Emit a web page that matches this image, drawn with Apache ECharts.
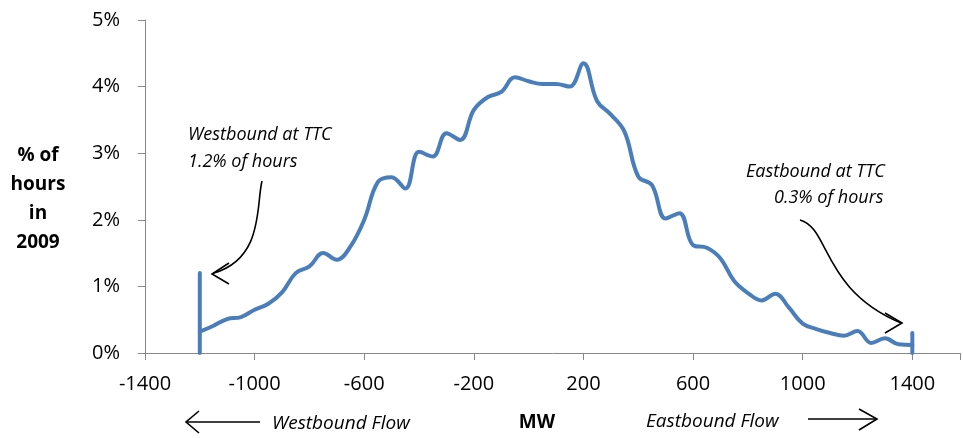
<!DOCTYPE html>
<html><head><meta charset="utf-8">
<script src="https://cdn.jsdelivr.net/npm/echarts@6/dist/echarts.min.js"></script>
<style>html,body{margin:0;padding:0;background:#fff}#c{width:963px;height:438px}</style>
</head><body><div id="c"></div>
<script>
// MW flow (negative = westbound, positive = eastbound)
const mw = [-1200,-1150,-1100,-1050,-1000,-950,-900,-850,-800,-750,-700,-650,-600,-550,-500,-450,-400,-350,-300,-250,-200,-150,-100,-50,0,50,100,150,200,250,300,350,400,450,500,550,600,650,700,750,800,850,900,950,1000,1050,1100,1150,1200,1250,1300,1350,1400];
// % of hours in 2009
const pctHours = [0.32,0.41,0.51,0.54,0.65,0.74,0.91,1.20,1.30,1.50,1.40,1.60,2.00,2.57,2.64,2.47,3.02,2.95,3.30,3.20,3.65,3.84,3.92,4.14,4.08,4.04,4.04,4.00,4.35,3.78,3.58,3.32,2.65,2.52,2.02,2.10,1.62,1.58,1.42,1.08,0.90,0.79,0.89,0.68,0.44,0.36,0.30,0.26,0.33,0.15,0.22,0.13,0.12];
// TTC spikes
const westTTC = {mw: -1200, pct: 1.2};
const eastTTC = {mw: 1400, pct: 0.3};
const xTicks = [-1400,-1000,-600,-200,200,600,1000,1400];
const yTicks = [0,1,2,3,4,5];

const FONT = 'Open Sans';
const BLUE = '#4a7ebb';
const chart = echarts.init(document.getElementById('c'));
const curve = mw.map((m,i)=>[m,pctHours[i]]);
const lineStyle = {color: BLUE, width: 4, cap: 'round', join: 'round'};

function arrowHead(tip, w1, w2){
  return {type:'polyline', shape:{points:[w1, tip, w2]}, style:{stroke:'#000', lineWidth:1.6, fill:null}};
}

chart.setOption({
  animation: false,
  grid: {left:145, right:0, top:20, bottom:85},
  xAxis: {
    type:'value', min:-1400, max:1574, interval:400,
    axisLine:{onZero:false, lineStyle:{color:'#898989', width:1}},
    axisTick:{show:true, length:7, lineStyle:{color:'#898989'}},
    splitLine:{show:false},
    axisLabel:{color:'#000', fontFamily:FONT, fontSize:20, margin:21,
      formatter: v => xTicks.includes(v) ? String(v) : ''}
  },
  yAxis: {
    type:'value', min:0, max:5, interval:1,
    axisLine:{show:true, onZero:false, lineStyle:{color:'#898989', width:1}},
    axisTick:{show:true, length:7, lineStyle:{color:'#898989'}},
    splitLine:{show:false},
    axisLabel:{color:'#000', fontFamily:FONT, fontSize:20, margin:25,
      formatter: v => yTicks.includes(v) ? v + '%' : ''}
  },
  series: [
    {type:'line', data:curve, smooth:0.4, symbol:'none', lineStyle},
    {type:'line', data:[[westTTC.mw,0],[westTTC.mw,westTTC.pct]], symbol:'none', lineStyle},
    {type:'line', data:[[eastTTC.mw,0],[eastTTC.mw,eastTTC.pct]], symbol:'none', lineStyle}
  ],
  graphic: [
    {type:'text', style:{text:'% of\nhours\nin\n2009', x:38, y:141, textAlign:'center', fontFamily:FONT, fontWeight:'bold', fontSize:19, lineHeight:29, fill:'#000'}},
    {type:'text', style:{text:'Westbound at TTC\n1.2% of hours', x:188, y:121, fontFamily:FONT, fontStyle:'italic', fontSize:18, lineHeight:27, fill:'#000'}},
    {type:'text', style:{text:'Eastbound at TTC', x:746, y:163, fontFamily:FONT, fontStyle:'italic', fontSize:18, fill:'#000'}},
    {type:'text', style:{text:'0.3% of hours', x:774, y:189, fontFamily:FONT, fontStyle:'italic', fontSize:18, fill:'#000'}},
    {type:'bezierCurve', shape:{x1:262, y1:181, cpx1:256, cpy1:205, cpx2:264, cpy2:258, x2:214, y2:273}, style:{stroke:'#000', lineWidth:1.6, fill:null}},
    arrowHead([212,274],[229,263],[229,284]),
    {type:'bezierCurve', shape:{x1:800, y1:220, cpx1:830, cpy1:228, cpx2:822, cpy2:290, x2:901, y2:323}, style:{stroke:'#000', lineWidth:1.6, fill:null}},
    arrowHead([902,323],[885,313],[885,333]),
    {type:'line', shape:{x1:186, y1:422, x2:260, y2:422}, style:{stroke:'#000', lineWidth:1.6}},
    arrowHead([186,422],[199,411],[199,433]),
    {type:'text', style:{text:'Westbound Flow', x:272, y:414, fontFamily:FONT, fontStyle:'italic', fontSize:19, fill:'#000'}},
    {type:'text', style:{text:'MW', x:537, y:413, textAlign:'center', fontFamily:FONT, fontWeight:'bold', fontSize:19, fill:'#000'}},
    {type:'text', style:{text:'Eastbound Flow', x:646, y:412, fontFamily:FONT, fontStyle:'italic', fontSize:19, fill:'#000'}},
    {type:'line', shape:{x1:808, y1:419, x2:877, y2:419}, style:{stroke:'#000', lineWidth:1.6}},
    arrowHead([877,419],[859,409],[859,430])
  ]
});
</script></body></html>
